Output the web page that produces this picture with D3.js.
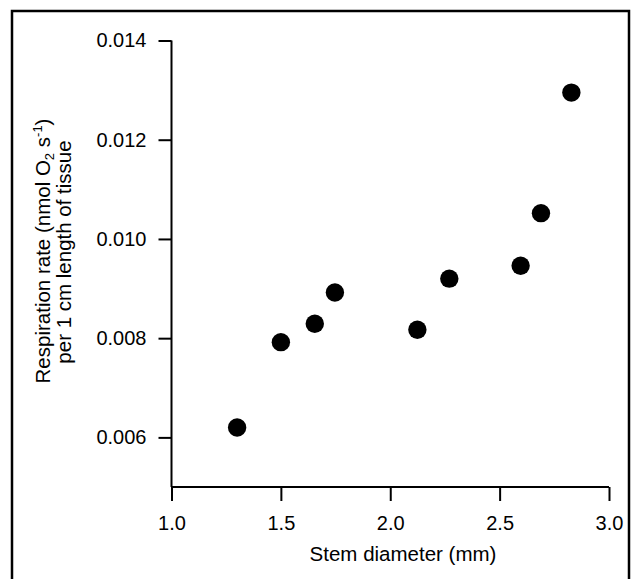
<!DOCTYPE html>
<html>
<head>
<meta charset="utf-8">
<script src="https://cdn.jsdelivr.net/npm/d3@7"></script>
<style>
html,body{margin:0;padding:0;background:#fff;}
svg{display:block;}
text{font-family:"Liberation Sans",Arial,Helvetica,sans-serif;fill:#000;}
</style>
</head>
<body>
<svg id="chart" width="634" height="579"></svg>
<script>
const stemDiameter = [1.30, 1.50, 1.655, 1.747, 2.124, 2.27, 2.596, 2.689, 2.828];
const respirationRate = [0.00620, 0.00792, 0.00829, 0.00892, 0.00817, 0.00920, 0.00946, 0.01052, 0.01295];
const xTicks = [1.0, 1.5, 2.0, 2.5, 3.0];
const yTicks = [0.006, 0.008, 0.010, 0.012, 0.014];

const svg = d3.select("#chart");

// outer frame (open at bottom)
svg.append("path")
  .attr("d", "M12,579 L12,11 L629,11 L629,579")
  .attr("fill", "none").attr("stroke", "#000").attr("stroke-width", 2.5);

const x = d3.scaleLinear().domain([1.0, 3.0]).range([171.5, 609]);
const y = d3.scaleLinear().domain([0.005, 0.014]).range([487, 40.5]);

const xAxis = d3.axisBottom(x).tickValues(xTicks).tickFormat(d3.format(".1f"))
  .tickSizeInner(14).tickSizeOuter(0).tickPadding(15);
const yAxis = d3.axisLeft(y).tickValues(yTicks).tickFormat(d3.format(".3f"))
  .tickSizeInner(13).tickSizeOuter(0).tickPadding(12);

const gx = svg.append("g").attr("transform", "translate(0,487)").call(xAxis);
const gy = svg.append("g").attr("transform", "translate(171.5,0)").call(yAxis);

[gx, gy].forEach(g => {
  g.select(".domain").attr("stroke", "#000").attr("stroke-width", 2);
  g.selectAll(".tick line").attr("stroke", "#000").attr("stroke-width", 2);
  g.selectAll(".tick text").attr("font-family", "'Liberation Sans', Arial, sans-serif")
    .attr("font-size", 20).attr("fill", "#000");
});
gy.select(".domain").attr("d", "M0," + y(0.014) + "V" + y(0.005));
gx.select(".domain").attr("d", "M" + x(1.0) + ",0H" + x(3.0));

// points
svg.append("g").selectAll("circle")
  .data(stemDiameter.map((d, i) => [d, respirationRate[i]]))
  .join("circle")
  .attr("cx", d => x(d[0]))
  .attr("cy", d => y(d[1]))
  .attr("r", 9.2)
  .attr("fill", "#000");

// x axis title
svg.append("text")
  .attr("x", 403).attr("y", 561)
  .attr("text-anchor", "middle")
  .attr("font-size", 20.5)
  .text("Stem diameter (mm)");

// y axis title
const yt = svg.append("text")
  .attr("transform", "translate(50,251) rotate(-90)")
  .attr("text-anchor", "middle")
  .attr("font-size", 20.5);
yt.append("tspan").text("Respiration rate (nmol O");
yt.append("tspan").attr("font-size", 13).attr("dy", 4).text("2");
yt.append("tspan").attr("dy", -4).text(" s");
yt.append("tspan").attr("font-size", 13).attr("dy", -8).text("-1");
yt.append("tspan").attr("dy", 8).text(")");

svg.append("text")
  .attr("transform", "translate(71,252) rotate(-90)")
  .attr("text-anchor", "middle")
  .attr("font-size", 20.5)
  .text("per 1 cm length of tissue");
</script>
</body>
</html>
